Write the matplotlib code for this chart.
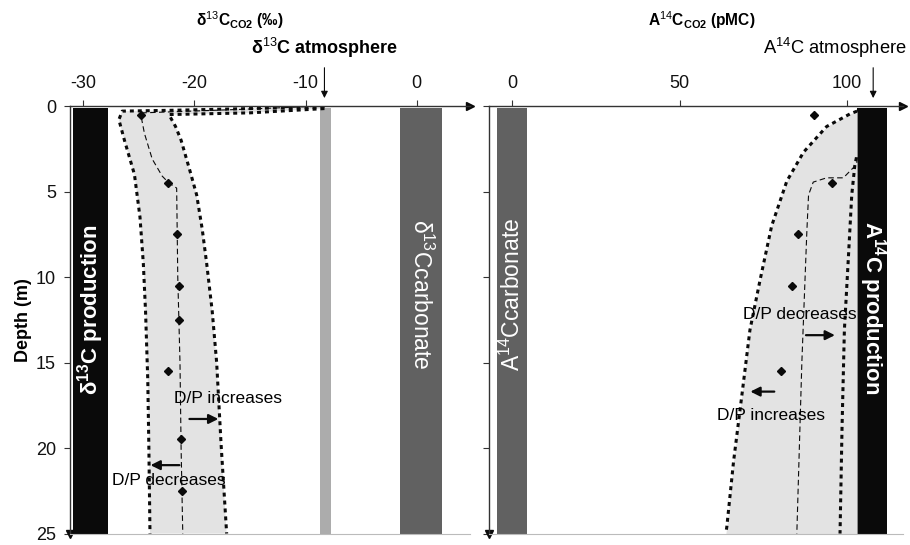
import numpy as np
import matplotlib
matplotlib.use('Agg')
import matplotlib.pyplot as plt

plt.rcParams['font.family'] = ['Liberation Sans', 'DejaVu Sans']
plt.rcParams['mathtext.fontset'] = 'custom'
plt.rcParams['mathtext.rm'] = 'Liberation Sans'
plt.rcParams['mathtext.bf'] = 'Liberation Sans:bold'
plt.rcParams['mathtext.it'] = 'Liberation Sans:italic'

# ---------------- données ----------------
# profondeurs des mesures (m)
prof_d13c = [0.5, 4.5, 7.5, 10.5, 12.5, 15.5, 19.5, 22.5]
val_d13c = [-24.8, -22.4, -21.6, -21.35, -21.4, -22.4, -21.2, -21.1]

prof_a14c = [0.5, 4.5, 7.5, 10.5, 15.5]
val_a14c = [90.1, 95.5, 85.4, 83.5, 80.3]

# pôles (bandes verticales)
d13c_production = (-30.9, -27.8)
d13c_atmosphere = (-8.7, -7.7)
d13c_carbonate = (-1.5, 2.3)
a14c_carbonate = (-4.5, 4.5)
a14c_production = (103.0, 112.0)
d13c_atm_valeur = -8.3
a14c_atm_valeur = 107.8

# enveloppe du modèle delta13C (bord gauche / bord droit)
env_g_d13c_x = [-8.3, -15.0, -22.0, -26.5, -26.8, -26.3, -25.4, -24.9, -24.6, -24.4, -24.2, -24.1, -24.0]
env_g_d13c_z = [0.05, 0.15, 0.25, 0.3, 0.8, 2.0, 4.0, 6.5, 9.2, 12.0, 16.0, 20.0, 25.0]
env_d_d13c_x = [-8.3, -15.0, -22.3, -21.7, -21.2, -20.4, -19.8, -19.3, -18.9, -18.4, -18.0, -17.6, -17.1]
env_d_d13c_z = [0.15, 0.4, 0.5, 1.2, 2.0, 3.8, 5.2, 7.2, 9.2, 12.0, 15.0, 19.8, 25.0]
# courbe centrale delta13C
mod_d13c_x = [-8.3, -16.0, -24.6, -24.8, -24.5, -23.8, -22.9, -22.3, -21.6, -21.5, -21.3, -21.2, -21.05]
mod_d13c_z = [0.0, 0.2, 0.4, 0.6, 1.6, 3.1, 4.1, 4.5, 4.8, 10.0, 15.0, 20.0, 25.0]

# enveloppe du modèle A14C
env_g_a14c_x = [103.0, 100.9, 93.9, 87.0, 82.0, 77.5, 74.0, 71.0, 68.6, 66.1, 64.1, 63.8]
env_g_a14c_z = [0.3, 0.46, 1.2, 2.7, 4.4, 7.0, 10.2, 13.1, 16.9, 20.8, 24.6, 25.0]
env_d_a14c_x = [102.8, 102.3, 101.4, 100.3, 99.2, 98.5, 97.9]
env_d_a14c_z = [3.0, 3.5, 5.2, 9.2, 13.1, 18.8, 25.0]
# courbe centrale A14C
mod_a14c_x = [103.0, 102.9, 98.9, 93.9, 89.9, 88.5, 88.0, 86.5, 85.0]
mod_a14c_z = [3.0, 3.4, 4.2, 4.2, 4.45, 5.2, 7.3, 15.0, 25.0]

noir = '#0a0a0a'
gris_fonce = '#616161'
gris_clair = '#acacac'
gris_zone = '#e3e3e3'
axe_couleur = '#333333'

fig = plt.figure(figsize=(9.1, 5.45), dpi=100)
ax1 = fig.add_axes([0.0769, 0.021, 0.4396, 0.7845])
ax2 = fig.add_axes([0.5374, 0.021, 0.4549, 0.7845])


def preparer_axe(ax, xlim, xticks, yticklabels):
    ax.set_xlim(*xlim)
    ax.set_ylim(25, 0)
    ax.xaxis.tick_top()
    ax.set_xticks(xticks)
    ax.set_yticks([0, 5, 10, 15, 20, 25])
    if not yticklabels:
        ax.set_yticklabels([])
    ax.tick_params(axis='both', direction='out', length=4, width=0.8,
                   colors=axe_couleur, labelcolor='#111111', labelsize=13, pad=6)
    ax.spines['right'].set_visible(False)
    ax.spines['bottom'].set_color('#bbbbbb')
    ax.spines['bottom'].set_linewidth(0.8)
    for s in ('top', 'left'):
        ax.spines[s].set_color(axe_couleur)
        ax.spines[s].set_linewidth(1.0)
    # flèches au bout des axes
    ax.plot(1, 1, '>', color=noir, ms=6, transform=ax.transAxes, clip_on=False)
    ax.plot(0, 0, 'v', color=noir, ms=6, transform=ax.transAxes, clip_on=False)


# ---------------- panneau delta13C ----------------
preparer_axe(ax1, (-31.2, 4.8), [-30, -20, -10, 0], True)
ax1.set_xticklabels(['-30', '-20', '-10', '0'])

ax1.axvspan(*d13c_production, ymin=0, ymax=0.995, color=noir, lw=0)
ax1.axvspan(*d13c_atmosphere, ymin=0, ymax=0.995, color=gris_clair, lw=0)
ax1.axvspan(*d13c_carbonate, ymin=0, ymax=0.995, color=gris_fonce, lw=0)

zone_x = env_g_d13c_x + env_d_d13c_x[::-1]
zone_z = env_g_d13c_z + env_d_d13c_z[::-1]
ax1.fill(zone_x, zone_z, color=gris_zone, lw=0, zorder=1)
ax1.plot(env_g_d13c_x, env_g_d13c_z, color=noir, lw=2.2, ls=(0, (1.3, 1.3)), zorder=2)
ax1.plot(env_d_d13c_x, env_d_d13c_z, color=noir, lw=2.2, ls=(0, (1.3, 1.3)), zorder=2)
ax1.plot(mod_d13c_x, mod_d13c_z, color=noir, lw=0.8, ls=(0, (5, 3)), zorder=2)
ax1.plot(val_d13c, prof_d13c, 'D', color=noir, ms=4.5, zorder=3)

ax1.text(-29.35, 11.9, 'δ$^{\\mathbf{13}}$C production', color='white', fontsize=16,
         fontweight='bold', rotation=90, ha='center', va='center')
ax1.text(0.4, 11.0, 'δ$^{13}$Ccarbonate', color='white', fontsize=16.5,
         rotation=-90, ha='center', va='center')

ax1.text(-17.0, 17.1, 'D/P increases', fontsize=12.5, ha='center', va='center')
ax1.annotate('', xy=(-17.6, 18.3), xytext=(-20.7, 18.3),
             arrowprops=dict(arrowstyle='-|>', color=noir, lw=1.6, mutation_scale=14))
ax1.text(-22.3, 21.9, 'D/P decreases', fontsize=12.5, ha='center', va='center')
ax1.annotate('', xy=(-24.2, 21.0), xytext=(-21.1, 21.0),
             arrowprops=dict(arrowstyle='-|>', color=noir, lw=1.6, mutation_scale=14))

ax1.set_ylabel('Depth (m)', fontsize=13, fontweight='bold', labelpad=3)
ax1.text(-15.9, 1.2, 'δ$^{13}$C$_{\\mathbf{CO2}}$ (‰)', fontsize=11.2, fontweight='bold',
         ha='center', va='center', transform=ax1.get_xaxis_transform())
ax1.text(d13c_atm_valeur, 1.136, 'δ$^{13}$C atmosphere', fontsize=13, fontweight='bold',
         ha='center', va='center', transform=ax1.get_xaxis_transform())
ax1.annotate('', xy=(d13c_atm_valeur, 1.012), xytext=(d13c_atm_valeur, 1.096),
             xycoords=ax1.get_xaxis_transform(),
             arrowprops=dict(arrowstyle='-|>', color=noir, lw=0.8, mutation_scale=10))

# ---------------- panneau A14C ----------------
preparer_axe(ax2, (-6.9, 116.7), [0, 50, 100], False)

ax2.axvspan(*a14c_carbonate, ymin=0, ymax=0.995, color=gris_fonce, lw=0)
ax2.axvspan(*a14c_production, ymin=0, ymax=0.995, color=noir, lw=0)

ax2.fill_betweenx(env_g_a14c_z, env_g_a14c_x, a14c_production[0], color=gris_zone, lw=0, zorder=1)
ax2.plot(env_g_a14c_x, env_g_a14c_z, color=noir, lw=2.2, ls=(0, (1.3, 1.3)), zorder=2)
ax2.plot(env_d_a14c_x, env_d_a14c_z, color=noir, lw=2.2, ls=(0, (1.3, 1.3)), zorder=2)
ax2.plot(mod_a14c_x, mod_a14c_z, color=noir, lw=0.8, ls=(0, (5, 3)), zorder=2)
ax2.plot(val_a14c, prof_a14c, 'D', color=noir, ms=4.5, zorder=3)

ax2.text(0.0, 11.0, 'A$^{14}$Ccarbonate', color='white', fontsize=16.5,
         rotation=90, ha='center', va='center')
ax2.text(107.5, 11.8, 'A$^{\\mathbf{14}}$C production', color='white', fontsize=16,
         fontweight='bold', rotation=-90, ha='center', va='center')

ax2.text(86.0, 12.2, 'D/P decreases', fontsize=12.5, ha='center', va='center')
ax2.annotate('', xy=(97.2, 13.4), xytext=(86.9, 13.4),
             arrowprops=dict(arrowstyle='-|>', color=noir, lw=1.6, mutation_scale=14))
ax2.text(77.4, 18.1, 'D/P increases', fontsize=12.5, ha='center', va='center')
ax2.annotate('', xy=(70.3, 16.7), xytext=(79.1, 16.7),
             arrowprops=dict(arrowstyle='-|>', color=noir, lw=1.6, mutation_scale=14))

ax2.text(56.7, 1.2, 'A$^{14}$C$_{\\mathbf{CO2}}$ (pMC)', fontsize=11.2, fontweight='bold',
         ha='center', va='center', transform=ax2.get_xaxis_transform())
ax2.text(96.5, 1.136, 'A$^{14}$C atmosphere', fontsize=13.2,
         ha='center', va='center', transform=ax2.get_xaxis_transform())
ax2.annotate('', xy=(a14c_atm_valeur, 1.012), xytext=(a14c_atm_valeur, 1.096),
             xycoords=ax2.get_xaxis_transform(),
             arrowprops=dict(arrowstyle='-|>', color=noir, lw=0.8, mutation_scale=10))

fig.savefig('out.png', dpi=100)
